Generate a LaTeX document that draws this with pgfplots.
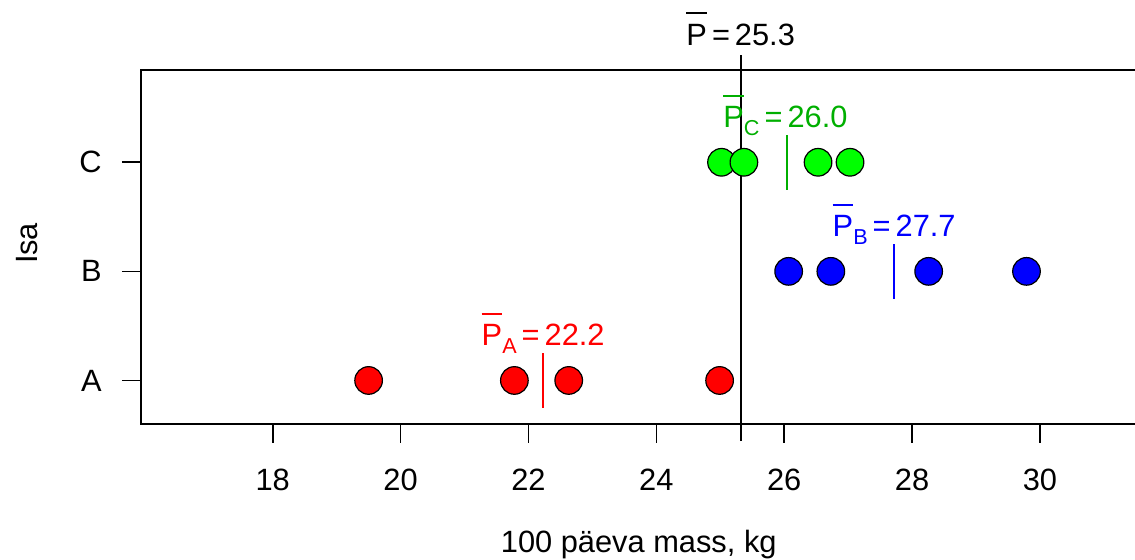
\documentclass[border=0pt]{standalone}
\usepackage{fontspec}
\setmainfont{Liberation Sans}
\usepackage{pgfplots}
\pgfplotsset{compat=1.18}
\definecolor{gfill}{RGB}{0,255,0}
\definecolor{gtext}{RGB}{0,175,0}
\definecolor{rtext}{RGB}{255,0,0}
\definecolor{btext}{RGB}{0,0,255}
\newcommand{\Pbar}{{\setbox0\hbox{P}\rlap{\raisebox{\dimexpr\ht0+4.8pt\relax}{\rule{\wd0}{0.9pt}}}P}}
\newcommand{\sub}[1]{\raisebox{-4pt}{\fontsize{10.8}{12}\selectfont #1}}
\newcommand{\eq}{\hspace{2.5pt}=\hspace{2.5pt}}

\begin{document}
\fontsize{15.4}{18}\selectfont
\begin{tikzpicture}
\begin{axis}[
  at={(70.5pt,68pt)}, anchor=south west,
  scale only axis, width=503.8pt, height=177pt,
  xmin=15.94, xmax=31.7, ymin=0.601, ymax=3.846,
  xtick={18,20,22,24,26,28,30}, ytick={1,2,3}, yticklabels={A,B,C},
  tick align=outside, major tick length=9.5pt,
  tick style={black, line width=0.8pt},
  axis line style={black, line width=0.8pt},
  xtick pos=bottom, ytick pos=left,
  clip=false,
  font=\fontsize{15.4}{18}\selectfont,
  /pgf/number format/assume math mode=true,
  xticklabel style={anchor=base, inner sep=0pt},
  xticklabel shift=24pt,
  yticklabel style={anchor=east, inner sep=0pt},
  yticklabel shift=10pt,
  xlabel={100 päeva mass, kg}, ylabel={Isa},
  xlabel style={at={(axis description cs:0.494,-0.3616)}, anchor=base, inner sep=0pt},
  ylabel style={at={(axis description cs:-0.1131,0.51)}, anchor=center, inner sep=0pt},
]
% group A
\addplot[only marks, mark=*, mark size=6.9pt, mark options={fill=red, draw=black, line width=0.6pt}]
  coordinates {(19.50,1) (21.78,1) (22.63,1) (24.99,1)};
% group B
\addplot[only marks, mark=*, mark size=6.9pt, mark options={fill=blue, draw=black, line width=0.6pt}]
  coordinates {(26.07,2) (26.73,2) (28.26,2) (29.79,2)};
% group C
\addplot[only marks, mark=*, mark size=6.9pt, mark options={fill=gfill, draw=black, line width=0.6pt}]
  coordinates {(25.02,3) (25.37,3) (26.53,3) (27.03,3)};
% group means
\addplot[draw=rtext, line width=0.8pt] coordinates {(22.23,0.75) (22.23,1.25)};
\addplot[draw=btext, line width=0.8pt] coordinates {(27.72,1.75) (27.72,2.25)};
\addplot[draw=gtext, line width=0.9pt] coordinates {(26.04,2.75) (26.04,3.25)};
% overall mean
\addplot[draw=black, line width=0.8pt] coordinates {(25.32,0.445) (25.32,3.983)};
\node[anchor=base, inner sep=0pt] at (axis cs:25.32,4.075) {\Pbar\eq 25.3};
\node[anchor=base, inner sep=0pt, text=rtext] at (axis cs:22.23,1.317) {\Pbar\sub{A}\eq 22.2};
\node[anchor=base, inner sep=0pt, text=btext] at (axis cs:27.72,2.317) {\Pbar\sub{B}\eq 27.7};
\node[anchor=base, inner sep=0pt, text=gtext] at (axis cs:26.02,3.317) {\Pbar\sub{C}\eq 26.0};
\end{axis}
\pgfresetboundingbox
\path[use as bounding box] (0,0) rectangle (567.5pt,280pt);
\end{tikzpicture}
\end{document}
